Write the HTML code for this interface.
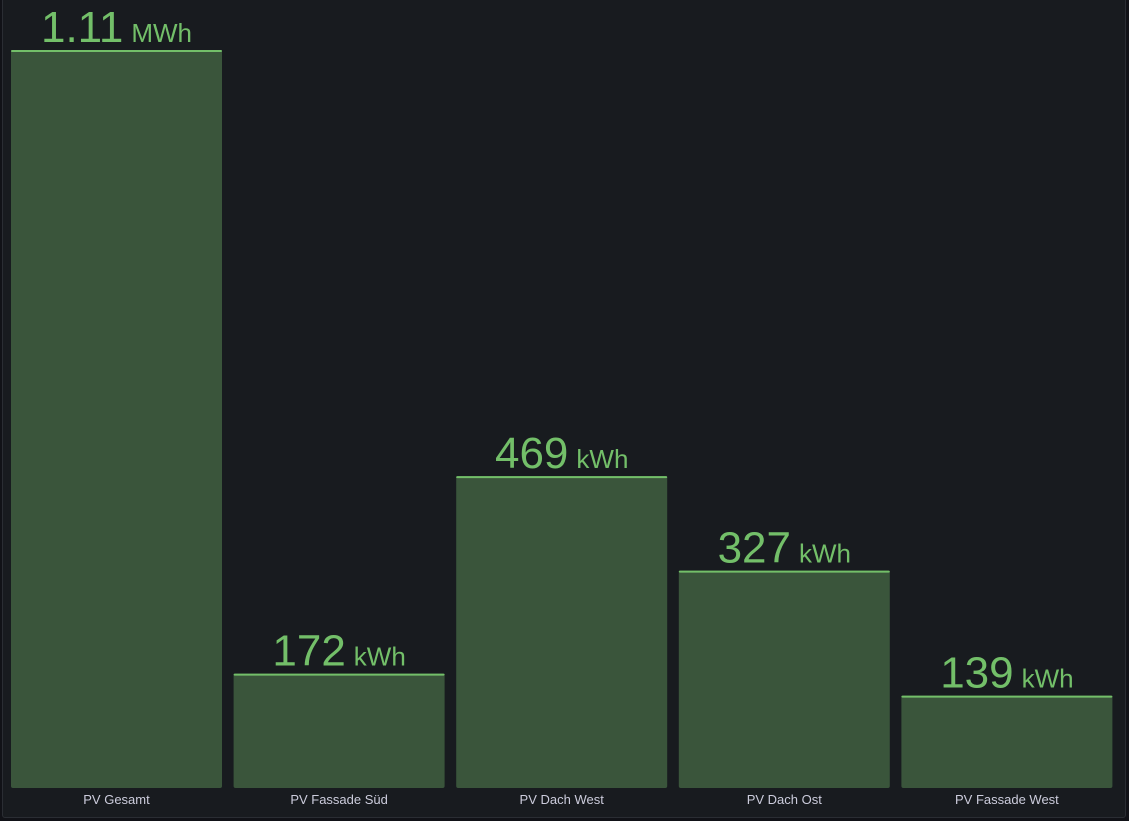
<!DOCTYPE html>
<html><head><meta charset="utf-8"><style>
html,body{margin:0;padding:0;background:#111217;}
#panel{position:absolute;left:2px;top:-4px;width:1124px;height:822px;background:#181b1f;border:1px solid #2a2d33;border-radius:3px;box-sizing:border-box;}
svg{position:absolute;left:0;top:0;}
text{font-family:"Liberation Sans",sans-serif;}
</style></head><body>
<div id="panel"></div>
<svg id="chart" width="1129" height="821"></svg>
<script>
const categories=["PV Gesamt","PV Fassade Süd","PV Dach West","PV Dach Ost","PV Fassade West"];
const values=[1110,172,469,327,139];
const valueNumbers=["1.11","172","469","327","139"];
const valueUnits=["MWh","kWh","kWh","kWh","kWh"];
const maxVal=1110;
const svg=document.getElementById('chart');
const NS='http://www.w3.org/2000/svg';
const x0=11, slot=222.6, bw=211, base=788, plotH=738;
function y(v){return base-v/maxVal*plotH;}
function xs(i){return x0+i*slot;}
categories.forEach((c,i)=>{
  const x=xs(i), top=y(values[i]);
  const r=document.createElementNS(NS,'rect');
  
  
  r.setAttribute('x',x);r.setAttribute('y',top);r.setAttribute('width',bw);r.setAttribute('height',base-top);
  r.setAttribute('rx',2);r.setAttribute('fill','#3a553b');
  svg.appendChild(r);
  const l=document.createElementNS(NS,'rect');
  
  
  l.setAttribute('x',x);l.setAttribute('y',top);l.setAttribute('width',bw);l.setAttribute('height',2);
  l.setAttribute('rx',1);l.setAttribute('fill','#73bf69');
  svg.appendChild(l);
  const t=document.createElementNS(NS,'text');
  
  
  t.setAttribute('x',x+bw/2);t.setAttribute('y',top-8);t.setAttribute('text-anchor','middle');
  t.setAttribute('fill','#73bf69');
  const n=document.createElementNS(NS,'tspan');n.setAttribute('font-size','44');n.textContent=valueNumbers[i];
  const u=document.createElementNS(NS,'tspan');u.setAttribute('font-size','26');u.setAttribute('dx','8');u.textContent=valueUnits[i];
  t.appendChild(n);t.appendChild(u);svg.appendChild(t);
  const c2=document.createElementNS(NS,'text');
  
  
  c2.setAttribute('x',x+bw/2);c2.setAttribute('y',804);c2.setAttribute('text-anchor','middle');
  c2.setAttribute('font-size','13');c2.setAttribute('fill','#ccccdc');
  c2.textContent=c;svg.appendChild(c2);
});
</script>
</body></html>
